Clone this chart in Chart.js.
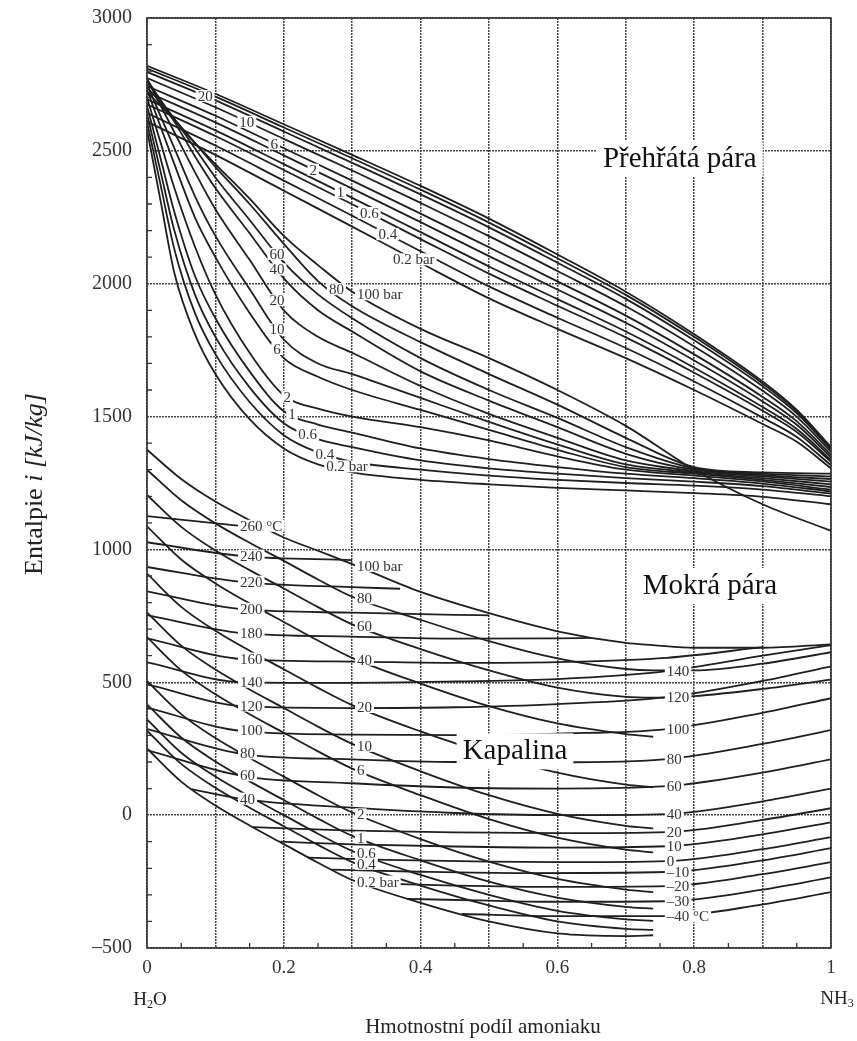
<!DOCTYPE html>
<html>
<head>
<meta charset="utf-8">
<script src="https://cdn.jsdelivr.net/npm/chart.js@4.4.0/dist/chart.umd.min.js"></script>
<style>
  html, body { margin: 0; padding: 0; background: #fff; }
</style>
</head>
<body>
<canvas id="chart" width="857" height="1041"></canvas>
<script>
// --- dew lines (upper family), enthalpy kJ/kg at the ammonia fractions in dewX
const dewPressures = ['60', '40', '20', '10', '6', '2', '1', '0.6', '0.4', '0.2'];
const dewX = [0, 0.1, 0.2, 0.3, 0.4, 0.5, 0.6, 0.7, 0.8, 0.9, 0.95, 1];
const dewEnthalpy = [
  [2820, 2715, 2600, 2485, 2368, 2245, 2110, 1970, 1810, 1632, 1525, 1385],
  [2810, 2704, 2588, 2472, 2354, 2230, 2096, 1958, 1800, 1624, 1519, 1381],
  [2797, 2690, 2573, 2455, 2336, 2212, 2079, 1943, 1787, 1614, 1512, 1376],
  [2774, 2664, 2545, 2426, 2304, 2179, 2048, 1915, 1764, 1597, 1499, 1367],
  [2744, 2632, 2510, 2388, 2264, 2137, 2009, 1880, 1734, 1574, 1482, 1356],
  [2721, 2607, 2483, 2358, 2232, 2104, 1978, 1853, 1711, 1557, 1469, 1347],
  [2694, 2577, 2450, 2323, 2194, 2065, 1942, 1820, 1684, 1536, 1453, 1337],
  [2675, 2556, 2428, 2299, 2168, 2038, 1917, 1798, 1665, 1522, 1442, 1330],
  [2642, 2520, 2388, 2256, 2122, 1990, 1872, 1758, 1632, 1496, 1423, 1317],
  [2610, 2485, 2350, 2215, 2078, 1945, 1830, 1720, 1600, 1472, 1405, 1305]
];

// --- auxiliary lines (lower vapour family)
const auxPressures = ['100', '80', '60', '40', '20', '10', '6', '2', '1', '0.6', '0.4', '0.2'];
const auxX = [0, 0.02, 0.04, 0.07, 0.1, 0.15, 0.2, 0.25, 0.3, 0.4, 0.5, 0.6, 0.7, 0.8, 0.9, 1];
const auxEnthalpy = [
  [2720, 2670, 2615, 2530, 2450, 2320, 2180, 2070, 1970, 1830, 1720, 1600, 1465, 1300, 1170, 1070],
  [2740, 2680, 2620, 2530, 2440, 2300, 2150, 2010, 1915, 1780, 1660, 1545, 1420, 1310, 1290, 1285],
  [2760, 2690, 2620, 2510, 2400, 2240, 2080, 1960, 1870, 1720, 1600, 1495, 1385, 1305, 1285, 1275],
  [2770, 2690, 2610, 2480, 2360, 2190, 2020, 1900, 1820, 1670, 1560, 1460, 1360, 1300, 1280, 1265],
  [2770, 2670, 2570, 2420, 2280, 2090, 1900, 1800, 1740, 1615, 1510, 1420, 1335, 1295, 1275, 1255],
  [2750, 2630, 2510, 2330, 2180, 1980, 1790, 1700, 1660, 1570, 1480, 1395, 1320, 1290, 1268, 1245],
  [2730, 2590, 2450, 2250, 2100, 1890, 1720, 1650, 1600, 1525, 1450, 1375, 1310, 1285, 1262, 1235],
  [2700, 2530, 2360, 2140, 1960, 1740, 1580, 1530, 1500, 1460, 1410, 1350, 1300, 1278, 1256, 1225],
  [2670, 2470, 2270, 2030, 1870, 1670, 1520, 1470, 1440, 1380, 1340, 1310, 1285, 1268, 1248, 1218],
  [2640, 2420, 2200, 1960, 1800, 1610, 1475, 1415, 1385, 1335, 1305, 1285, 1268, 1255, 1238, 1210],
  [2610, 2370, 2130, 1890, 1735, 1555, 1430, 1365, 1330, 1300, 1278, 1262, 1250, 1240, 1225, 1200],
  [2580, 2310, 2040, 1810, 1660, 1490, 1380, 1320, 1290, 1262, 1245, 1232, 1222, 1212, 1198, 1170]
];

// --- bubble lines (liquid), null = line not drawn there
const bubblePressures = ['100', '80', '60', '40', '20', '10', '6', '2', '1', '0.6', '0.4', '0.2'];
const bubbleX = [0, 0.05, 0.1, 0.15, 0.2, 0.25, 0.3, 0.4, 0.5, 0.6, 0.7, 0.74, 0.8, 0.9, 1];
const bubbleEnthalpy = [
  [1375, 1265, 1180, 1110, 1045, 995, 945, 840, 760, 692, 648, 640, 630, 630, 643],
  [1300, 1185, 1098, 1025, 957, 887, 822, 735, 655, 590, 550, 545, 545, 570, 613],
  [1205, 1085, 996, 922, 853, 783, 718, 625, 545, 480, 445, 442, 448, 475, 510],
  [1087, 962, 872, 797, 727, 657, 592, 495, 410, 345, 305, 295, null, null, null],
  [909, 784, 694, 619, 549, 479, 414, 315, 230, 160, 115, 105, null, null, null],
  [763, 638, 548, 473, 403, 333, 268, 165, 75, 5, -40, -50, null, null, null],
  [670, 545, 455, 380, 310, 240, 175, 75, -15, -85, -130, -140, null, null, null],
  [505, 380, 290, 215, 145, 75, 10, -90, -175, -240, -280, -290, null, null, null],
  [417, 292, 202, 127, 57, -13, -78, -170, -250, -310, -345, -352, null, null, null],
  [360, 235, 145, 70, 0, -70, -135, -225, -300, -360, -392, -398, null, null, null],
  [318, 193, 103, 28, -42, -112, -177, -265, -340, -400, -428, -432, null, null, null],
  [251, 126, 36, -39, -109, -179, -244, -330, -400, -445, -455, -452, null, null, null]
];

// --- liquid isotherms, [ammonia fraction, enthalpy]
const isoTemps = ['260', '240', '220', '200', '180', '160', '140', '120', '100', '80', '60', '40',
                  '20', '10', '0', '–10', '–20', '–30', '–40'];
const isoPoints = [
  [[0, 1125], [0.14, 1088]],
  [[0, 1027], [0.14, 975], [0.3, 960]],
  [[0, 934], [0.14, 877], [0.3, 858], [0.37, 852]],
  [[0, 842], [0.14, 775], [0.3, 762], [0.45, 754], [0.5, 752]],
  [[0, 753], [0.14, 685], [0.3, 672], [0.45, 664], [0.6, 665], [0.65, 667]],
  [[0, 665], [0.14, 587], [0.3, 578], [0.45, 573], [0.6, 576], [0.76, 592], [0.9, 632]],
  [[0, 575], [0.14, 500], [0.3, 498], [0.45, 503], [0.6, 512], [0.76, 542], [0.9, 600], [1, 640]],
  [[0, 492], [0.14, 410], [0.3, 403], [0.45, 406], [0.6, 418], [0.76, 444], [0.9, 505], [1, 560]],
  [[0, 405], [0.14, 316], [0.3, 303], [0.45, 301], [0.6, 307], [0.76, 324], [0.9, 385], [1, 440]],
  [[0, 324], [0.14, 230], [0.3, 210], [0.45, 200], [0.6, 199], [0.76, 211], [0.9, 268], [1, 320]],
  [[0, 245], [0.14, 147], [0.3, 120], [0.45, 104], [0.6, 100], [0.76, 109], [0.9, 160], [1, 210]],
  [[0.065, 98], [0.14, 60], [0.3, 28], [0.45, 8], [0.6, 0], [0.76, 4], [0.9, 52], [1, 100]],
  [[0.155, -45], [0.3, -58], [0.45, -65], [0.6, -68], [0.76, -64], [0.9, -18], [1, 26]],
  [[0.195, -100], [0.3, -110], [0.45, -118], [0.6, -122], [0.76, -117], [0.9, -72], [1, -27]],
  [[0.235, -160], [0.35, -168], [0.5, -175], [0.6, -177], [0.76, -173], [0.9, -128], [1, -83]],
  [[0.27, -205], [0.4, -213], [0.55, -218], [0.76, -214], [0.9, -170], [1, -124]],
  [[0.31, -255], [0.45, -265], [0.6, -270], [0.76, -267], [0.9, -222], [1, -177]],
  [[0.38, -315], [0.5, -322], [0.6, -326], [0.76, -324], [0.9, -280], [1, -234]],
  [[0.46, -372], [0.6, -380], [0.76, -380], [0.9, -336], [1, -290]]
];

// curve labels: [line index, text, x of label, align]
const dewLabels = [[2, '20', 0.085], [3, '10', 0.146], [4, '6', 0.186], [5, '2', 0.243],
  [6, '1', 0.283], [7, '0.6', 0.325], [8, '0.4', 0.352], [9, '0.2 bar', 0.39]];
const auxLabels = [[0, '100 bar', 0.307, 'left'], [1, '80', 0.266, 'left'], [2, '60', 0.19], [3, '40', 0.19],
  [4, '20', 0.19], [5, '10', 0.19], [6, '6', 0.19], [7, '2', 0.205], [8, '1', 0.212],
  [9, '0.6', 0.235], [10, '0.4', 0.26], [11, '0.2 bar', 0.262, 'left']];
const bubbleLabels = bubblePressures.map((p, i) =>
  [i, (i === 0 || i === 11) ? p + ' bar' : p, 0.307, 'left']);
const isoLabels = isoTemps.map((t, i) =>
  i < 12 ? [i, i === 0 ? t + ' °C' : t, 0.136, 'left'] : null).filter(Boolean)
  .concat(isoTemps.map((t, i) =>
  i >= 6 ? [i, i === 18 ? t + ' °C' : t, 0.76, 'left'] : null).filter(Boolean));

const regionLabels = [['Přehřátá pára', 0.779, 2469], ['Mokrá pára', 0.823, 862], ['Kapalina', 0.538, 240]];

const LINE = '#1f1f1f';
const SERIF = '"Liberation Serif", "DejaVu Serif", serif';

function series(xs, hs) {
  return xs.map((x, i) => ({ x: x, y: hs[i] })).filter(p => p.y !== null);
}
const dewSets = dewEnthalpy.map(h => series(dewX, h));
const auxSets = auxEnthalpy.map(h => series(auxX, h));
const bubbleSets = bubbleEnthalpy.map(h => series(bubbleX, h));
const isoSets = isoPoints.map(pts => pts.map(p => ({ x: p[0], y: p[1] })));

const datasets = [].concat(dewSets, auxSets, bubbleSets, isoSets).map(d => ({
  data: d,
  showLine: true,
  borderColor: LINE,
  borderWidth: 1.8,
  pointRadius: 0,
  fill: false,
  cubicInterpolationMode: 'monotone'
}));

function valueAt(pts, x) {
  for (let i = 0; i < pts.length - 1; i++) {
    if (x >= pts[i].x && x <= pts[i + 1].x) {
      const t = (x - pts[i].x) / (pts[i + 1].x - pts[i].x);
      return pts[i].y + t * (pts[i + 1].y - pts[i].y);
    }
  }
  return pts[pts.length - 1].y;
}

const labelGroups = [
  { sets: dewSets, labels: dewLabels },
  { sets: auxSets, labels: auxLabels },
  { sets: bubbleSets, labels: bubbleLabels },
  { sets: isoSets, labels: isoLabels }
];

function drawFormula(ctx, parts, cx, y) {
  const big = '19px ' + SERIF, small = '12px ' + SERIF;
  let w = 0;
  parts.forEach(([t, sub]) => { ctx.font = sub ? small : big; w += ctx.measureText(t).width; });
  let x = cx - w / 2;
  parts.forEach(([t, sub]) => {
    ctx.font = sub ? small : big;
    ctx.fillText(t, x, sub ? y + 5 : y);
    x += ctx.measureText(t).width;
  });
}

const decorations = {
  id: 'decorations',
  afterDatasetsDraw(chart) {
    const { ctx, chartArea: a, scales: { x: sx, y: sy } } = chart;
    ctx.save();
    // curve labels
    ctx.font = '15px ' + SERIF;
    ctx.textBaseline = 'middle';
    const items = [];
    labelGroups.forEach(g => g.labels.forEach(([idx, text, lx, align]) => {
      const h = valueAt(g.sets[idx], lx);
      const px = sx.getPixelForValue(lx), py = sy.getPixelForValue(h);
      const w = ctx.measureText(text).width;
      items.push({ text, left: align === 'left' ? px : px - w / 2, py, w });
    }));
    ctx.fillStyle = '#fff';
    items.forEach(it => ctx.fillRect(it.left - 2, it.py - 6, it.w + 4, 12));
    ctx.fillStyle = '#333';
    items.forEach(it => ctx.fillText(it.text, it.left, it.py + 1));

    // region names
    ctx.font = '29px ' + SERIF;
    ctx.textAlign = 'center';
    regionLabels.forEach(([t, lx, ly]) => {
      const px = sx.getPixelForValue(lx), py = sy.getPixelForValue(ly);
      const w = ctx.measureText(t).width;
      ctx.fillStyle = '#fff';
      ctx.fillRect(px - w / 2 - 6, py - 18, w + 12, 36);
      ctx.fillStyle = '#111';
      ctx.fillText(t, px, py);
    });
    ctx.textAlign = 'left';

    // frame and minor ticks
    ctx.strokeStyle = '#333';
    ctx.lineWidth = 1.6;
    ctx.strokeRect(a.left, a.top, a.right - a.left, a.bottom - a.top);
    ctx.lineWidth = 1.3;
    ctx.beginPath();
    for (let v = -400; v < 3000; v += 100) {
      if (v % 500 === 0) continue;
      const py = sy.getPixelForValue(v);
      ctx.moveTo(a.left, py); ctx.lineTo(a.left + 5, py);
    }
    for (let k = 0; k < 10; k++) {
      const px = sx.getPixelForValue(0.05 + k * 0.1);
      ctx.moveTo(px, a.bottom); ctx.lineTo(px, a.bottom - 5);
    }
    ctx.stroke();

    // axis names
    ctx.fillStyle = '#222';
    ctx.textBaseline = 'middle';
    drawFormula(ctx, [['H', 0], ['2', 1], ['O', 0]], sx.getPixelForValue(0) + 3, 1000);
    drawFormula(ctx, [['NH', 0], ['3', 1]], sx.getPixelForValue(1) + 6, 999);
    ctx.font = '21px ' + SERIF;
    ctx.textAlign = 'center';
    ctx.fillText('Hmotnostní podíl amoniaku', 483, 1027);

    ctx.translate(35, 484);
    ctx.rotate(-Math.PI / 2);
    const segs = [['Entalpie ', '26px ' + SERIF], ['i', 'italic 26px ' + SERIF], [' [kJ/kg]', 'italic 26px ' + SERIF]];
    let tw = 0;
    segs.forEach(([t, f]) => { ctx.font = f; tw += ctx.measureText(t).width; });
    let xx = -tw / 2;
    ctx.textAlign = 'left';
    segs.forEach(([t, f]) => { ctx.font = f; ctx.fillText(t, xx, 0); xx += ctx.measureText(t).width; });
    ctx.restore();
  }
};

const gridStyle = { color: '#444', lineWidth: 1.5, drawTicks: false };

new Chart(document.getElementById('chart'), {
  type: 'scatter',
  data: { datasets },
  options: {
    responsive: false,
    animation: false,
    devicePixelRatio: 1,
    layout: { padding: { left: 0, right: 26, top: 18, bottom: 53 } },
    plugins: { legend: { display: false }, tooltip: { enabled: false } },
    scales: {
      x: {
        type: 'linear', min: 0, max: 1,
        afterFit: s => { s.height = 40; },
        ticks: {
          stepSize: 0.1, autoSkip: false, maxRotation: 0, padding: 9,
          font: { family: SERIF, size: 19 }, color: '#333',
          callback: v => {
            const k = Math.round(v * 10);
            if (k % 2) return '';
            return k === 0 ? '0' : k === 10 ? '1' : (k / 10).toFixed(1);
          }
        },
        grid: gridStyle,
        border: { display: false, dash: [2, 1] }
      },
      y: {
        min: -500, max: 3000,
        afterFit: s => { s.width = 147; },
        ticks: {
          stepSize: 500, padding: 5, font: { family: SERIF, size: 20 }, color: '#333',
          // trailing en space keeps the numbers clear of the axis without a big tick padding
          callback: v => (v < 0 ? '–' + Math.abs(v) : String(v)) + '\u2002'
        },
        grid: gridStyle,
        border: { display: false, dash: [2, 1] }
      }
    }
  },
  plugins: [decorations]
});
</script>
</body>
</html>
